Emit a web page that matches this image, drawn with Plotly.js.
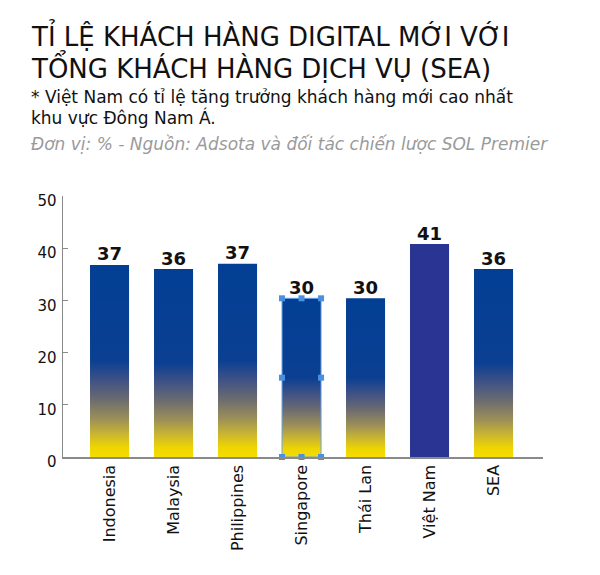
<!DOCTYPE html>
<html>
<head>
<meta charset="utf-8">
<script src="https://cdn.plot.ly/plotly-3.0.1.min.js"></script>
<style>html,body{margin:0;padding:0;background:#fff;}#chart{width:600px;height:575px;}</style>
</head>
<body>
<div id="chart"></div>
<script>
// ---- data ----
var categories = ["Indonesia", "Malaysia", "Philippines", "Singapore", "Thái Lan", "Việt Nam", "SEA"];
var values = [36.8, 36.0, 37.0, 30.4, 30.4, 40.8, 36.0];
var valueLabels = ["37", "36", "37", "30", "30", "41", "36"];
var yTicks = [0, 10, 20, 30, 40, 50];
var highlight = "Việt Nam";
var selected = "Singapore";

var titleLines = ["TỈ LỆ KHÁCH HÀNG DIGITAL MỚI VỚI", "TỔNG KHÁCH HÀNG DỊCH VỤ (SEA)"];
var noteLines = ["* Việt Nam có tỉ lệ tăng trưởng khách hàng mới cao nhất", "khu vực Đông Nam Á."];
var sourceText = "Đơn vị: % - Nguồn: Adsota và đối tác chiến lược SOL Premier";

// ---- styling ----
var FONT = "DejaVu Sans, sans-serif";
var W = 600, H = 575;
var M = {l: 63, r: 57, t: 196, b: 118};
var plotH = H - M.t - M.b;
function py(p) { return (H - M.b - p) / plotH; }   // page pixel y -> paper y
var halfW = 0.305;
var gradScale = [
  [0, "#f5dd00"], [0.05, "#eed500"], [0.12, "#c9b532"], [0.2, "#9b8f58"],
  [0.3, "#6b6b70"], [0.4, "#3e5286"], [0.5, "#0b3f92"], [1, "#023f94"]
];

var traces = [];
categories.forEach(function (c, i) {
  var v = values[i];
  var xs = [i - halfW, i - halfW, i + halfW, i + halfW, i - halfW];
  var ys = [0, v, v, 0, 0];
  var t = {
    type: "scatter", mode: "lines", x: xs, y: ys, fill: "toself",
    line: {width: 0, color: "rgba(0,0,0,0)"}, hoverinfo: "skip", showlegend: false
  };
  if (c === highlight) {
    t.fillcolor = "#2a3593";
  } else {
    t.fillgradient = {type: "vertical", colorscale: gradScale, start: 0, stop: v};
  }
  traces.push(t);
});

// selection handles around the selected bar (editor artefact in reference)
var si = categories.indexOf(selected);
if (si >= 0) {
  var sv = values[si];
  traces.push({
    type: "scatter", mode: "lines",
    x: [si - halfW, si - halfW, si + halfW, si + halfW, si - halfW],
    y: [0, sv, sv, 0, 0],
    line: {width: 1, color: "#6aa3ea"}, hoverinfo: "skip", showlegend: false
  });
  traces.push({
    type: "scatter", mode: "markers",
    x: [si - halfW, si, si + halfW, si - halfW, si + halfW, si - halfW, si, si + halfW],
    y: [sv, sv, sv, sv / 2, sv / 2, 0, 0, 0],
    marker: {symbol: "square", size: 6, color: "#4a90e2"},
    hoverinfo: "skip", showlegend: false, cliponaxis: false
  });
}

// value labels
traces.push({
  type: "scatter", mode: "text",
  x: categories.map(function (c, i) { return i; }),
  y: values, text: valueLabels, textposition: "top center",
  textfont: {family: FONT, size: 18, color: "#111", weight: "bold"},
  hoverinfo: "skip", showlegend: false, cliponaxis: false
});

var TX = -0.0708;
var annotations = [];
annotations.push({xref: "paper", yref: "paper", x: TX, y: py(36), xanchor: "left", yanchor: "middle",
  text: titleLines[0], showarrow: false, font: {family: FONT, size: 26, color: "#111"}});
annotations.push({xref: "paper", yref: "paper", x: TX, y: py(67), xanchor: "left", yanchor: "middle",
  text: titleLines[1], showarrow: false, font: {family: FONT, size: 26, color: "#111"}});
annotations.push({xref: "paper", yref: "paper", x: TX, y: py(97), xanchor: "left", yanchor: "middle",
  text: noteLines[0], showarrow: false, font: {family: FONT, size: 17, color: "#111"}});
annotations.push({xref: "paper", yref: "paper", x: TX, y: py(117), xanchor: "left", yanchor: "middle",
  text: noteLines[1], showarrow: false, font: {family: FONT, size: 17, color: "#111"}});
annotations.push({xref: "paper", yref: "paper", x: TX, y: py(144), xanchor: "left", yanchor: "middle",
  text: "<i>" + sourceText + "</i>", showarrow: false, font: {family: FONT, size: 17, color: "#9a9a9a"}});

var layout = {
  width: W, height: H,
  margin: M,
  paper_bgcolor: "#fff", plot_bgcolor: "#fff",
  showlegend: false,
  xaxis: {
    range: [-0.727, 6.773], tickvals: categories.map(function (c, i) { return i; }), ticktext: categories,
    tickangle: -90, ticks: "", showgrid: false, zeroline: false,
    showline: true, linecolor: "#8a8a8a", linewidth: 1.5,
    tickfont: {family: FONT, size: 16, color: "#111"}, fixedrange: true
  },
  yaxis: {
    range: [0, 50], tickvals: yTicks, ticks: "inside", ticklen: 5, tickcolor: "#8a8a8a", tickwidth: 1,
    showgrid: false, zeroline: false, showline: true, linecolor: "#8a8a8a", linewidth: 1.5,
    tickfont: {family: FONT, size: 15, color: "#111"}, ticklabelshift: 5, ticklabelstandoff: 2, fixedrange: true
  },
  annotations: annotations
};

Plotly.newPlot("chart", traces, layout, {displayModeBar: false, staticPlot: true});
</script>
</body>
</html>
